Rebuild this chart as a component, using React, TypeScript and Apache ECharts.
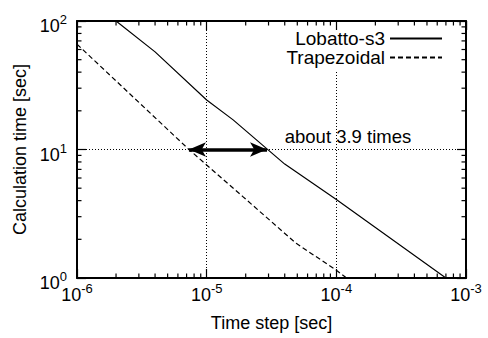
import React, { useEffect, useRef } from "react";
import * as echarts from "echarts";

const FONT = "'Liberation Sans', Arial, Helvetica, sans-serif";

// Data (time step [sec], calculation time [sec])
const lobattoX = [2e-6, 4e-6, 1e-5, 1.6e-5, 4e-5, 1e-4, 7e-4];
const lobattoY = [100, 57.5, 24.3, 17, 7.7, 4.08, 1.0];
const trapX = [1e-6, 7.3e-6, 1.9e-5, 4.9e-5, 1e-4, 1.2e-4];
const trapY = [66, 10, 4.3, 1.86, 1.15, 1.0];

// Annotation
const arrowFromX = 7.3e-6;
const arrowToX = 2.92e-5;
const arrowY = 10;
const annotation = "about 3.9 times";

// Axis ranges and minor ticks
const xMin = 1e-6;
const xMax = 1e-3;
const yMin = 1;
const yMax = 100;
const minorMultipliers = [2, 3, 4, 5, 6, 7, 8, 9];
const xDecades = [1e-6, 1e-5, 1e-4];
const yDecades = [1, 10];

const fmt = (v: number) => {
  const e = Math.round(Math.log10(v));
  return `{b|10}{e|${e}}`;
};

const rich = {
  b: { fontSize: 18, fontFamily: FONT, color: "#000", verticalAlign: "bottom", lineHeight: 18 },
  e: { fontSize: 13, fontFamily: FONT, color: "#000", verticalAlign: "bottom", lineHeight: 13, padding: [0, 0, 9, 0] },
};

export default function App() {
  const ref = useRef<HTMLDivElement>(null);
  useEffect(() => {
    document.body.style.margin = "0";
    const chart = echarts.init(ref.current!, null, { renderer: "svg" });
    const xMinor: number[][] = [];
    xDecades.forEach((d) => minorMultipliers.forEach((m) => xMinor.push([d * m, yMin])));
    const yMinor: number[][] = [];
    yDecades.forEach((d) => minorMultipliers.forEach((m) => yMinor.push([xMin, d * m])));

    const mkLine = () => ({ show: true, onZero: false, lineStyle: { color: "#000", width: 2 } });
    const mkTick = () => ({ show: true, inside: true, length: 9, lineStyle: { color: "#000", width: 1.2 } });
    const mkSplit = () => ({ show: true, lineStyle: { color: "#000", width: 1, type: [1, 2] } });
    const tick = (x1: number, y1: number, x2: number, y2: number) => ({
      type: "line",
      shape: { x1, y1, x2, y2 },
      style: { stroke: "#000", lineWidth: 1.2 },
    });
    const minorLen = 4.5;

    chart.setOption({
      animation: false,
      grid: { left: 77, right: 22, top: 21, bottom: 60, outerBoundsMode: "none" },
      legend: {
        data: ["Lobatto-s3", "Trapezoidal"],
        orient: "vertical",
        align: "right",
        right: 37,
        top: 22,
        itemWidth: 52,
        itemHeight: 14,
        itemGap: 0,
        padding: [7, 8, 3, 8],
        backgroundColor: "#fff",
        itemStyle: { opacity: 0 },
        textStyle: { fontSize: 19, lineHeight: 16, fontFamily: FONT, color: "#000" },
      },
      xAxis: [
        {
          type: "log",
          logBase: 10,
          min: xMin,
          max: xMax,
          position: "bottom",
          name: "Time step [sec]",
          nameLocation: "middle",
          nameGap: 36,
          nameTextStyle: { fontSize: 18, fontFamily: FONT, color: "#000" },
          axisLine: mkLine(),
          axisTick: mkTick(),
          splitLine: mkSplit(),
          axisLabel: { formatter: fmt, rich, margin: 8, showMinLabel: true, showMaxLabel: true },
        },
        {
          type: "log",
          logBase: 10,
          min: xMin,
          max: xMax,
          position: "top",
          z: 10,
          axisLine: mkLine(),
          axisTick: mkTick(),
          splitLine: { show: false },
          axisLabel: { show: false },
        },
      ],
      yAxis: [
        {
          type: "log",
          logBase: 10,
          min: yMin,
          max: yMax,
          position: "left",
          name: "Calculation time [sec]",
          nameLocation: "middle",
          nameGap: 41,
          nameTextStyle: { fontSize: 18, fontFamily: FONT, color: "#000" },
          axisLine: mkLine(),
          axisTick: mkTick(),
          splitLine: mkSplit(),
          axisLabel: { formatter: fmt, rich, margin: 10, padding: [10, 0, 0, 0], showMinLabel: true, showMaxLabel: true },
        },
        {
          type: "log",
          logBase: 10,
          min: yMin,
          max: yMax,
          position: "right",
          z: 10,
          axisLine: mkLine(),
          axisTick: mkTick(),
          splitLine: { show: false },
          axisLabel: { show: false },
        },
      ],
      series: [
        {
          name: "Lobatto-s3",
          type: "line",
          data: lobattoX.map((x, i) => [x, lobattoY[i]]),
          symbol: "none",
          lineStyle: { color: "#000", width: 1.2, type: "solid" },
          itemStyle: { color: "#000" },
          silent: true,
        },
        {
          name: "Trapezoidal",
          type: "line",
          data: trapX.map((x, i) => [x, trapY[i]]),
          symbol: "none",
          lineStyle: { color: "#000", width: 1.2, type: [5, 3] },
          itemStyle: { color: "#000" },
          silent: true,
          markLine: {
            silent: true,
            symbol: ["arrow", "arrow"],
            symbolSize: [11, 17],
            label: { show: false },
            lineStyle: { color: "#000", width: 3.5, type: "solid" },
            emphasis: { disabled: true },
            data: [[{ coord: [arrowFromX, arrowY] }, { coord: [arrowToX, arrowY] }]],
          },
        },
        {
          name: "xminor",
          type: "custom",
          silent: true,
          clip: false,
          z: 10,
          data: xMinor,
          renderItem: (params: any, api: any) => {
            const x = api.value(0);
            const pb = api.coord([x, yMin]);
            const pt = api.coord([x, yMax]);
            return {
              type: "group",
              children: [
                tick(pb[0], pb[1], pb[0], pb[1] - minorLen),
                tick(pt[0], pt[1], pt[0], pt[1] + minorLen),
              ],
            };
          },
        },
        {
          name: "yminor",
          type: "custom",
          silent: true,
          clip: false,
          z: 10,
          data: yMinor,
          renderItem: (params: any, api: any) => {
            const y = api.value(1);
            const pl = api.coord([xMin, y]);
            const pr = api.coord([xMax, y]);
            return {
              type: "group",
              children: [
                tick(pl[0], pl[1], pl[0] + minorLen, pl[1]),
                tick(pr[0], pr[1], pr[0] - minorLen, pr[1]),
              ],
            };
          },
        },
      ],
      graphic: [
        {
          type: "text",
          x: 348,
          y: 136,
          style: {
            text: annotation,
            fontSize: 18.5,
            fontFamily: FONT,
            fill: "#000",
            align: "center",
            verticalAlign: "middle",
          },
        },
      ],
    });
    return () => chart.dispose();
  }, []);
  return <div ref={ref} style={{ width: 488, height: 338 }} />;
}
